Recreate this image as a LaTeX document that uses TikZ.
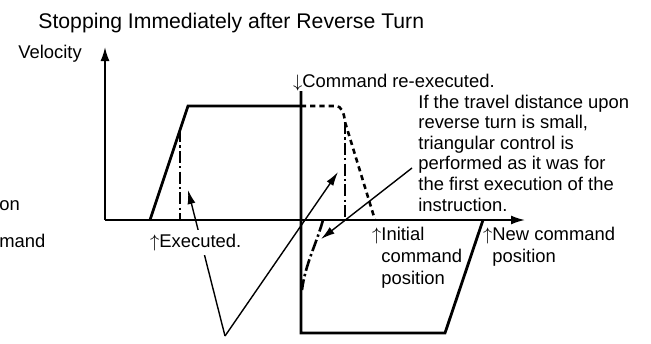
\documentclass[tikz,border=0pt]{standalone}
\usepackage{fontspec}
\setmainfont{Liberation Sans}
\usetikzlibrary{arrows.meta}
\begin{document}
\begin{tikzpicture}[x=0.5pt,y=-0.5pt,
    lbl/.style={inner sep=0pt,anchor=base west,font=\fontsize{9.2pt}{10.3pt}\selectfont},
    ax/.style={line width=0.9pt,-{Latex[length=7pt,width=4.5pt]}},
    prof/.style={line width=1.4pt},
    olddash/.style={line width=1.3pt,dash pattern=on 2.6pt off 2pt},
    dd/.style={line width=1.3pt,dash pattern=on 6pt off 1.6pt on 1.2pt off 1.6pt},
    ann/.style={line width=0.7pt,-{Latex[length=7pt,width=4pt]}}]
    \useasboundingbox (0,0) rectangle (651,343);

    \node[lbl,font=\fontsize{10.6pt}{12pt}\selectfont] (title) at (38,28) {Stopping Immediately after Reverse Turn};
    \node[lbl] (vel) at (18,58) {Velocity};
    \node[lbl] (cut1) at (-1,210) {on};
    \node[lbl] (cut2) at (-1,247) {mand};

    \coordinate (o) at (105,220);
    \coordinate (ytop) at (105,47);
    \coordinate (xend) at (525,220);
    \draw[ax] (o)--(ytop);
    \draw[ax] (o)--(xend);

    \coordinate (p0) at (150,220);
    \coordinate (p1) at (188,106);
    \coordinate (p2) at (301,106);
    \draw[prof] (p0)--(p1)--(p2);

    \coordinate (c0) at (301,91);
    \coordinate (c1) at (301,333);
    \coordinate (c2) at (445,333);
    \coordinate (c3) at (483,220);
    \draw[prof] (c0)--(c1)--(c2)--(c3);

    \coordinate (d1) at (336,106);
    \coordinate (d2) at (345,122);
    \coordinate (d3) at (375,220);
    \draw[olddash] (p2)--(d1) .. controls (341,106) and (344,112) .. (d2)--(d3);

    \coordinate (e1) at (180,130);
    \coordinate (e0) at (180,220);
    \draw[dd] (e1)--(e0);
    \coordinate (f0) at (345,220);
    \draw[dd] (d2)--(f0);
    \coordinate (g0) at (323,220);
    \coordinate (g1) at (302,290);
    \draw[dd] (g0) .. controls (316,245) and (305,265) .. (g1);

    \coordinate (vtx) at (225,336);
    \coordinate (exTip) at (188,190);
    \coordinate (upTip) at (338,172);
    \coordinate (txtEnd) at (412,168);
    \coordinate (dnTip) at (321,239);
    \draw[ann] (vtx)--(exTip);
    \draw[ann] (vtx)--(upTip);
    \draw[ann] (txtEnd)--(dnTip);

    \node[lbl,fill=white,inner sep=2pt] (exec) at (155,247) {\llap{$\uparrow$}Executed.};
    \node[lbl] (reexec) at (302,87) {\llap{$\downarrow$}Command re-executed.};
    \node[lbl,align=left] (note) at (418,211) {If the travel distance upon\\reverse turn is small,\\triangular control is\\performed as it was for\\the first execution of the\\instruction.};
    \node[lbl,align=left,font=\fontsize{9.2pt}{11pt}\selectfont] (init) at (381,284) {\llap{$\uparrow$}Initial\\command\\position};
    \node[lbl,align=left,font=\fontsize{9.2pt}{11pt}\selectfont] (newpos) at (492,262) {\llap{$\uparrow$}New command\\position};
\end{tikzpicture}
\end{document}
